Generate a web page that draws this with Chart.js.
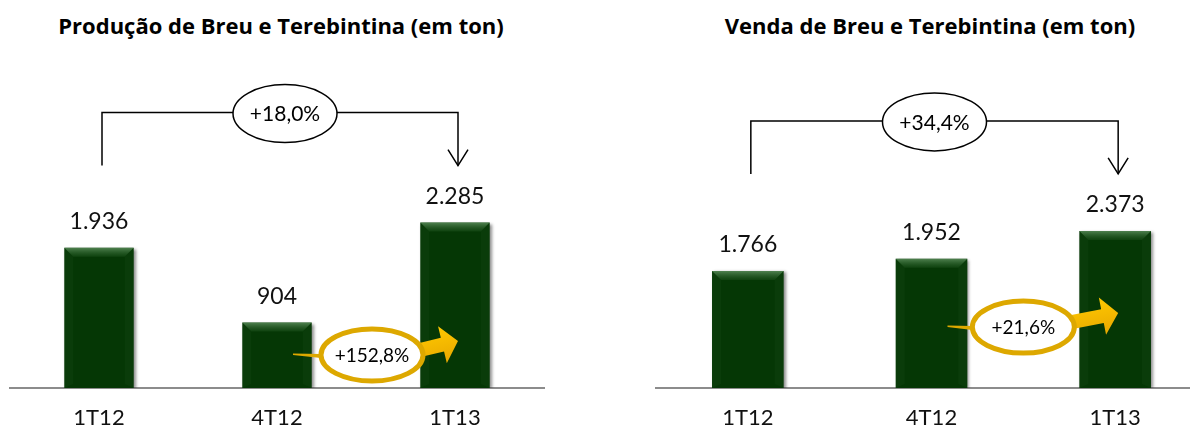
<!DOCTYPE html>
<html>
<head>
<meta charset="utf-8">
<script src="https://cdn.jsdelivr.net/npm/chart.js@4.4.1/dist/chart.umd.min.js"></script>
<style>
  html, body { margin: 0; padding: 0; background: #fff; overflow: hidden; width: 1190px; height: 432px; }
  .titulo { position: absolute; top: 10px; font-family: "Open Sans", sans-serif; font-weight: bold; font-size: 22px; color: #000; text-align: center; white-space: nowrap; transform: translateX(-50%); line-height: 30px; }
  canvas { position: absolute; top: 0; }
</style>
</head>
<body>
<div class="titulo" style="left:281px">Produção de Breu e Terebintina (em ton)</div>
<div class="titulo" style="left:930px">Venda de Breu e Terebintina (em ton)</div>
<canvas id="producao" width="554" height="432" style="left:0px"></canvas>
<canvas id="venda" width="571" height="432" style="left:646px"></canvas>
<script>
// dados (em ton)
const categorias = ['1T12', '4T12', '1T13'];
const producao = [1936, 904, 2285];
const venda = [1766, 1952, 2373];
const producaoAno = '+18,0%';      // 1T13 vs 1T12
const producaoTrimestre = '+152,8%'; // 1T13 vs 4T12
const vendaAno = '+34,4%';
const vendaTrimestre = '+21,6%';

const VERDE = '#053705';
const AMARELO = '#DDA800';
const FONTE = 'Lato, "Open Sans", sans-serif';

// formata 1936 -> 1.936
function fmt(v) {
    return String(v).replace(/\B(?=(\d{3})+(?!\d))/g, '.');
}

// sombra e chanfro das barras
const chanfro = {
    id: 'chanfro',
    beforeDatasetsDraw(chart) {
        const ctx = chart.ctx;
        ctx.save();
        ctx.shadowColor = 'rgba(0,0,0,0.45)';
        ctx.shadowBlur = 3;
        ctx.shadowOffsetX = 2;
        ctx.shadowOffsetY = 1;
    },
    afterDatasetsDraw(chart) {
        const ctx = chart.ctx;
        ctx.restore();
        const valores = chart.data.datasets[0].data;
        chart.getDatasetMeta(0).data.forEach((bar, i) => {
            const l = bar.x - bar.width / 2, r = bar.x + bar.width / 2;
            const t = bar.y, b = bar.base;
            const d = 9;
            // topo
            let g = ctx.createLinearGradient(0, t, 0, t + d);
            g.addColorStop(0, 'rgba(110,160,110,0.7)');
            g.addColorStop(1, 'rgba(40,95,40,0.3)');
            ctx.fillStyle = g;
            ctx.beginPath();
            ctx.moveTo(l, t); ctx.lineTo(r, t); ctx.lineTo(r - d, t + d); ctx.lineTo(l + d, t + d);
            ctx.closePath(); ctx.fill();
            // laterais
            ctx.fillStyle = 'rgba(60,110,60,0.1)';
            ctx.beginPath();
            ctx.moveTo(l, t); ctx.lineTo(l + d, t + d); ctx.lineTo(l + d, b - 4); ctx.lineTo(l, b);
            ctx.closePath(); ctx.fill();
            ctx.beginPath();
            ctx.moveTo(r, t); ctx.lineTo(r - d, t + d); ctx.lineTo(r - d, b - 4); ctx.lineTo(r, b);
            ctx.closePath(); ctx.fill();
            // rótulo do valor
            ctx.fillStyle = '#111';
            ctx.font = '23px ' + FONTE;
            ctx.textAlign = 'center';
            ctx.textBaseline = 'alphabetic';
            ctx.fillText(fmt(valores[i]), bar.x, t - 19);
        });
    }
};

// colchete de variação anual e elipse amarela da variação trimestral
const variacao = {
    id: 'variacao',
    afterDraw(chart, args, opts) {
        const ctx = chart.ctx;
        const bars = chart.getDatasetMeta(0).data;
        const yScale = chart.scales.y;

        // colchete
        const x1 = bars[0].x + 3, x2 = bars[2].x + 3;
        const topo = Math.min(...bars.map(b => b.y));
        const yBase = topo - 57, yLinha = yBase - 53;
        ctx.save();
        ctx.strokeStyle = '#000';
        ctx.lineWidth = 1.5;
        ctx.beginPath();
        ctx.moveTo(x1, yBase); ctx.lineTo(x1, yLinha); ctx.lineTo(x2, yLinha); ctx.lineTo(x2, yBase);
        ctx.stroke();
        ctx.beginPath();
        ctx.moveTo(x2 - 10, yBase - 16); ctx.lineTo(x2, yBase); ctx.lineTo(x2 + 10, yBase - 16);
        ctx.stroke();
        const ex = (x1 + x2) / 2 + opts.deslocEl, ey = yLinha + 1;
        ctx.beginPath();
        ctx.ellipse(ex, ey, 52, 29, 0, 0, Math.PI * 2);
        ctx.fillStyle = '#fff';
        ctx.fill();
        ctx.stroke();
        ctx.fillStyle = '#000';
        ctx.font = '21px ' + FONTE;
        ctx.textAlign = 'center';
        ctx.textBaseline = 'middle';
        ctx.fillText(opts.ano, ex, ey + 1);

        // elipse amarela
        const cx = (bars[1].x + bars[1].width / 2 + bars[2].x - bars[2].width / 2) / 2 + opts.deslocAm;
        const cy = yScale.getPixelForValue(opts.nivel);
        const rx = 51, ry = 26;
        // cauda
        ctx.fillStyle = AMARELO;
        ctx.beginPath();
        ctx.moveTo(bars[1].x + 16, cy - 1.5);
        ctx.lineTo(cx - rx, cy - 1);
        ctx.lineTo(cx - rx, cy + 3);
        ctx.lineTo(bars[1].x + 16, cy);
        ctx.closePath(); ctx.fill();
        // seta
        const sx = cx + rx - 3, sy = cy - 5;
        const tx = bars[2].x + 3, ty = cy - 14;
        const ang = Math.atan2(ty - sy, tx - sx);
        const len = Math.hypot(tx - sx, ty - sy);
        ctx.save();
        ctx.translate(sx, sy);
        ctx.rotate(ang);
        const gr = ctx.createLinearGradient(0, -19, 0, 19);
        gr.addColorStop(0, '#FFC800');
        gr.addColorStop(1, '#E8A800');
        ctx.fillStyle = gr;
        const hl = 16, sw = 7, hw = 19;
        ctx.beginPath();
        ctx.moveTo(0, -sw); ctx.lineTo(len - hl, -sw); ctx.lineTo(len - hl, -hw);
        ctx.lineTo(len, 0);
        ctx.lineTo(len - hl, hw); ctx.lineTo(len - hl, sw); ctx.lineTo(0, sw);
        ctx.closePath(); ctx.fill();
        ctx.restore();
        // elipse
        ctx.beginPath();
        ctx.ellipse(cx, cy, rx, ry, 0, 0, Math.PI * 2);
        ctx.fillStyle = '#fff';
        ctx.fill();
        ctx.lineWidth = 5;
        ctx.strokeStyle = AMARELO;
        ctx.stroke();
        ctx.fillStyle = '#000';
        ctx.font = '19px ' + FONTE;
        ctx.textAlign = 'center';
        ctx.textBaseline = 'middle';
        ctx.fillText(opts.trimestre, cx, cy + 1);
        ctx.restore();
    }
};

function criaGrafico(id, valores, yMax, plugOpts) {
    return new Chart(document.getElementById(id), {
        type: 'bar',
        data: {
            labels: categorias,
            datasets: [{
                data: valores,
                backgroundColor: VERDE,
                borderWidth: 0,
                categoryPercentage: 1,
                barPercentage: 0.39
            }]
        },
        options: {
            responsive: false,
            animation: false,
            layout: { padding: { top: 60, left: 10, right: 10, bottom: 0 } },
            plugins: {
                legend: { display: false },
                tooltip: { enabled: false },
                variacao: plugOpts
            },
            scales: {
                x: {
                    grid: { display: false, drawTicks: false },
                    border: { display: true, color: '#8c8c8c', width: 2 },
                    ticks: { color: '#111', font: { family: FONTE, size: 22 }, padding: 17 },
                    afterFit: s => { s.height = 44; }
                },
                y: { display: false, min: 0, max: yMax }
            }
        },
        plugins: [chanfro, variacao]
    });
}

criaGrafico('producao', producao, 4530, { ano: producaoAno, trimestre: producaoTrimestre, nivel: 456, deslocEl: 5, deslocAm: 6 });
criaGrafico('venda', venda, 4955, { ano: vendaAno, trimestre: vendaTrimestre, nivel: 921, deslocEl: 0, deslocAm: 0 });
</script>
</body>
</html>
